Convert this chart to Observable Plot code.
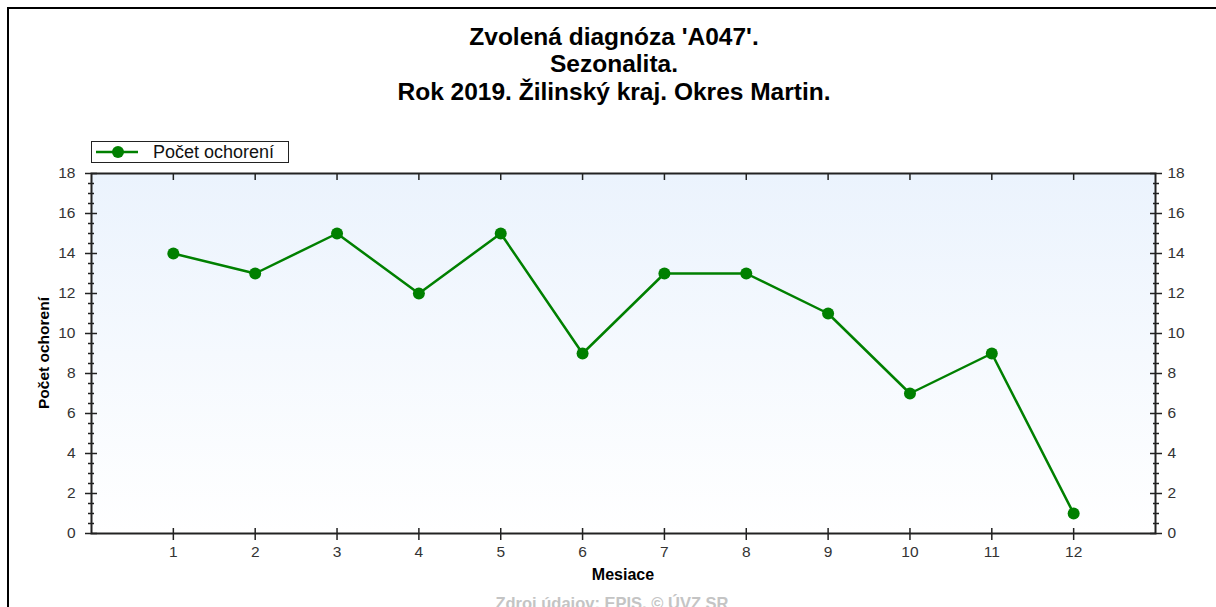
<!DOCTYPE html>
<html>
<head>
<meta charset="utf-8">
<script src="https://cdn.jsdelivr.net/npm/d3@7"></script>
<script src="https://cdn.jsdelivr.net/npm/@observablehq/plot@0.6"></script>
<style>
  body { margin: 0; background: #fff; font-family: "Liberation Sans", Arial, sans-serif; }
  #wrap { position: relative; width: 1216px; height: 607px; overflow: hidden; }
  #wrap > svg { position: absolute; left: 0; top: 0; }
  .border { position: absolute; left: 7px; top: 7px; width: 1300px; height: 700px; border-left: 2px solid #000; border-top: 2px solid #000; }
  .title { position: absolute; left: 0; width: 1228px; text-align: center; font-weight: bold; font-size: 24.5px; color: #000; line-height: 26px; }
  .legend { position: absolute; left: 91px; top: 141px; width: 196px; height: 20px; border: 1px solid #222; background: #fff; }
  .legend svg { position: absolute; left: 0; top: 0; }
  .legend span { position: absolute; left: 61px; top: -1px; font-size: 18px; color: #111; line-height: 22px; }
  .ytitle { position: absolute; left: 44px; top: 353px; transform: translate(-50%, -50%) rotate(-90deg); font-weight: bold; font-size: 15.5px; white-space: nowrap; }
  .xtitle { position: absolute; left: 0; width: 1246px; top: 566px; text-align: center; font-weight: bold; font-size: 16px; }
  .caption { position: absolute; left: 0; width: 1224px; top: 594px; text-align: center; font-weight: bold; font-size: 16.5px; color: #c4c4c4; }
</style>
</head>
<body>
<div id="wrap">
  <div class="border"></div>
  <div class="title" style="top:24px">Zvolená diagnóza 'A047'.</div>
  <div class="title" style="top:51px">Sezonalita.</div>
  <div class="title" style="top:79px">Rok 2019. Žilinský kraj. Okres Martin.</div>
</div>
<script>
const months = [1, 2, 3, 4, 5, 6, 7, 8, 9, 10, 11, 12];
const cases = [14, 13, 15, 12, 15, 9, 13, 13, 11, 7, 9, 1];
const yMajorTicks = [0, 2, 4, 6, 8, 10, 12, 14, 16, 18];
const yMinorTicks = d3.range(0, 18.01, 0.5).filter(v => v % 2 !== 0);
const seriesName = "Počet ochorení";

const data = months.map((m, i) => ({month: m, value: cases[i]}));
const green = "#008000";
const axisColor = "#222";
const labelFont = 15.5;

const chart = Plot.plot({
  width: 1216,
  height: 607,
  marginLeft: 91,
  marginRight: 61,
  marginTop: 173,
  marginBottom: 74,
  style: {fontFamily: "Liberation Sans, Arial, sans-serif", color: "#333", background: "transparent"},
  x: {domain: [0, 13], ticks: months},
  y: {domain: [0, 18], ticks: yMajorTicks},
  marks: [
    Plot.frame({fill: "#fff", stroke: null}),
    // left axis
    Plot.axisY({anchor: "left", ticks: yMajorTicks, tickSize: 12, dx: 6, tickFormat: () => "", stroke: axisColor, strokeWidth: 1.5, label: null}),
    Plot.axisY({anchor: "left", ticks: yMinorTicks, tickSize: 6, dx: 3, tickFormat: () => "", stroke: axisColor, strokeWidth: 1.5, label: null}),
    Plot.axisY({anchor: "left", ticks: yMajorTicks, tickSize: 0, tickPadding: 16, fill: "#333", label: null}),
    // right axis
    Plot.axisY({anchor: "right", ticks: yMajorTicks, tickSize: 12, dx: -6, tickFormat: () => "", stroke: axisColor, strokeWidth: 1.5, label: null}),
    Plot.axisY({anchor: "right", ticks: yMinorTicks, tickSize: 6, dx: -3, tickFormat: () => "", stroke: axisColor, strokeWidth: 1.5, label: null}),
    Plot.axisY({anchor: "right", ticks: yMajorTicks, tickSize: 0, tickPadding: 12, fill: "#333", label: null}),
    // bottom axis
    Plot.axisX({anchor: "bottom", ticks: months, tickSize: 12, dy: -5, tickFormat: () => "", stroke: axisColor, strokeWidth: 1.5, label: null}),
    Plot.axisX({anchor: "bottom", ticks: months, tickSize: 0, tickPadding: 12, fill: "#333", label: null}),
    // top axis: inward ticks
    Plot.axisX({anchor: "top", ticks: months, tickSize: 6, dy: 6, tickFormat: () => "", stroke: axisColor, strokeWidth: 1.5, label: null}),
    Plot.frame({stroke: axisColor, strokeWidth: 2}),
    Plot.line(data, {x: "month", y: "value", stroke: green, strokeWidth: 2.5}),
    Plot.dot(data, {x: "month", y: "value", fill: green, r: 6})
  ]
});

// gradient background for plot area
const svg = chart;
const ns = "http://www.w3.org/2000/svg";
const defs = document.createElementNS(ns, "defs");
defs.innerHTML = '<linearGradient id="bgGrad" x1="0" y1="0" x2="0" y2="1"><stop offset="0" stop-color="#ebf3fd"/><stop offset="1" stop-color="#ffffff"/></linearGradient>';
svg.insertBefore(defs, svg.firstChild);
const frameRect = svg.querySelector('g[aria-label="frame"] rect') || svg.querySelector('rect[aria-label="frame"]');
if (frameRect) frameRect.setAttribute("fill", "url(#bgGrad)");
// enlarge tick label text
svg.querySelectorAll("text").forEach(t => {
  t.style.fontSize = labelFont + "px";
  t.style.fontFamily = "Liberation Sans, Arial, sans-serif";
});

const wrap = document.getElementById("wrap");
wrap.insertBefore(svg, wrap.firstChild);

// legend
const leg = document.createElement("div");
leg.className = "legend";
leg.innerHTML = '<svg width="60" height="20"><line x1="4" y1="10" x2="46" y2="10" stroke="' + green + '" stroke-width="2.5"/><circle cx="26" cy="10" r="6" fill="' + green + '"/></svg><span></span>';
leg.querySelector("span").textContent = seriesName;
wrap.appendChild(leg);

const yt = document.createElement("div"); yt.className = "ytitle"; yt.textContent = seriesName; wrap.appendChild(yt);
const xt = document.createElement("div"); xt.className = "xtitle"; xt.textContent = "Mesiace"; wrap.appendChild(xt);
const cap = document.createElement("div"); cap.className = "caption"; cap.textContent = "Zdroj údajov: EPIS, © ÚVZ SR"; wrap.appendChild(cap);
</script>
</body>
</html>
